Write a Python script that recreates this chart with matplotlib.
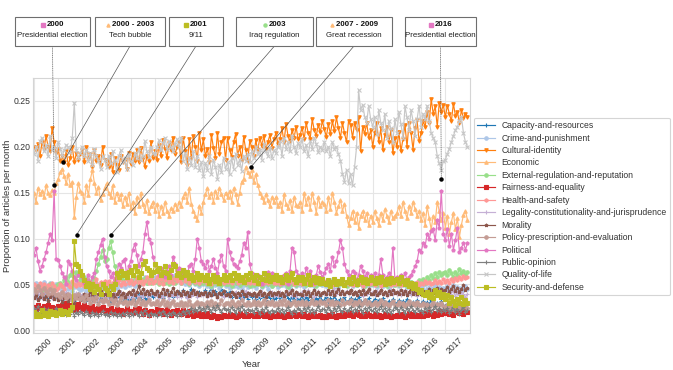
import numpy as np
import matplotlib
matplotlib.use('Agg')
import matplotlib.pyplot as plt
from matplotlib.patches import Rectangle

plt.rcParams['font.family'] = ['Liberation Sans', 'DejaVu Sans']
plt.rcParams['font.size'] = 6.2

#%% Data (monthly share of articles, per mille), Jan 2000 - Dec 2017
start_year = 2000
n_months = 216

capacity = [
    36,40,34,38,42,35,39,33,37,41,36,38, 35,39,33,37,40,34,38,36,32,36,39,35,
    34,38,32,36,39,33,37,35,31,35,38,34, 33,37,31,35,38,32,36,34,30,34,37,33,
    34,38,32,36,40,34,38,35,33,37,40,36, 38,42,36,40,35,39,43,37,41,36,40,38,
    42,38,44,40,36,41,45,39,43,38,42,40, 40,44,38,42,46,40,43,38,41,45,39,42,
    38,42,36,40,37,41,35,39,36,40,34,38, 36,39,34,38,35,40,36,33,37,35,39,34,
    35,38,33,37,34,39,35,32,36,34,38,33, 34,37,32,36,33,38,34,31,35,33,37,32,
    33,36,31,35,32,37,33,30,34,32,36,31, 32,35,30,34,31,36,32,29,33,31,35,30,
    31,34,29,33,30,35,31,28,32,30,34,29, 30,33,28,32,29,34,30,27,31,29,33,28,
    29,32,27,31,28,33,29,26,30,28,32,27, 26,29,24,28,25,30,26,23,27,25,29,24]

crime = [
    48,52,45,50,47,53,46,49,51,44,48,50, 46,50,44,48,52,45,49,43,47,50,46,44,
    45,48,43,47,50,44,48,52,46,49,45,50, 47,51,45,49,52,46,50,48,53,47,51,49,
    50,54,48,52,56,50,55,58,52,57,53,55, 58,53,57,61,55,59,54,58,52,56,60,54,
    55,52,57,50,54,49,53,56,50,54,48,52, 50,53,48,52,47,51,49,53,46,50,52,48,
    49,46,51,48,52,47,50,45,49,52,47,50, 48,51,46,50,53,47,51,49,45,50,48,52,
    50,47,52,49,54,48,51,46,50,53,48,51, 49,52,47,51,55,49,53,48,52,50,54,49,
    52,48,53,50,55,49,52,47,51,54,49,52, 50,53,48,52,49,54,50,47,51,53,48,51,
    49,52,47,51,54,48,52,50,46,51,49,53, 51,48,53,49,52,47,50,53,49,51,47,50,
    48,45,50,44,47,42,46,49,43,47,44,46, 45,48,43,46,49,44,47,42,46,44,48,45]

cultural = [
    200,196,203,190,205,198,212,200,195,221,205,193, 198,185,190,183,195,180,188,200,183,193,186,192,
    196,183,200,188,192,178,197,185,190,180,200,186, 184,178,192,172,188,180,175,190,183,186,176,193,
    181,192,185,196,183,199,188,178,190,185,205,188, 195,186,202,190,207,198,188,204,197,210,192,200,
    205,183,210,195,180,208,188,212,200,185,215,196, 208,190,198,183,213,199,188,215,192,205,210,186,
    210,197,189,205,214,190,200,186,211,197,185,206, 200,190,207,196,210,201,212,198,205,213,199,208,
    215,203,209,220,205,225,212,206,218,210,222,208, 213,221,208,226,215,209,230,218,212,224,216,228,
    219,211,225,214,228,217,232,220,210,226,215,205, 228,224,210,226,218,232,195,222,214,226,210,218,
    200,215,226,205,220,196,213,222,205,218,193,210, 200,216,195,209,224,200,226,215,197,220,229,206,
    215,228,222,238,226,252,236,244,222,248,238,246, 232,245,236,228,247,234,238,226,240,231,236,233]

economic = [
    150,140,155,148,152,145,158,150,147,153,150,160, 165,172,176,168,160,170,158,162,123,145,160,152,
    150,140,158,147,165,175,160,150,156,142,148,155, 160,150,145,158,140,150,143,148,135,145,138,150,
    133,140,128,145,135,150,138,130,142,128,135,140, 130,138,125,135,128,140,130,125,133,130,138,132,
    140,135,145,150,140,155,138,130,125,120,135,128, 140,148,155,145,150,140,152,145,155,148,142,150,
    145,152,140,155,148,138,150,162,165,178,172,168, 175,162,170,158,150,145,140,148,142,135,145,140,
    145,135,140,130,148,138,133,142,130,145,137,135, 140,130,150,138,145,132,150,140,128,145,135,140,
    138,130,145,132,150,140,128,135,142,130,138,125, 115,122,130,118,128,112,125,130,120,128,115,125,
    118,130,122,115,128,120,132,125,118,130,122,125, 128,135,125,140,130,122,135,128,140,132,125,130,
    120,128,115,135,122,110,125,118,140,130,120,128, 112,125,105,118,128,110,122,102,115,126,130,120]

external = [
    45,42,48,44,46,43,47,45,50,46,44,48, 50,52,48,55,58,53,60,62,58,63,60,55,
    56,58,52,55,50,54,57,65,72,80,88,75, 78,90,97,85,70,63,60,58,55,60,57,54,
    55,52,58,54,50,56,53,57,52,55,51,54, 53,56,50,54,58,52,55,50,53,57,52,55,
    56,52,55,58,53,50,54,56,52,55,50,53, 52,55,50,54,48,52,55,50,53,49,52,50,
    50,53,48,55,51,54,49,52,55,50,53,48, 52,49,54,50,53,48,51,55,50,52,48,51,
    50,53,49,52,55,50,47,52,50,54,49,51, 52,50,54,49,52,55,50,53,48,52,50,54,
    51,53,49,52,50,55,51,49,53,50,52,48, 52,50,54,51,49,53,50,52,48,51,54,50,
    50,53,49,52,50,54,51,48,52,50,53,49, 51,49,53,50,52,48,51,53,50,49,52,55,
    54,56,52,58,55,60,57,62,58,64,60,62, 63,60,66,62,58,64,60,67,62,65,60,64]

fairness = [
    25,22,27,24,20,26,23,28,22,25,21,24, 26,23,28,25,30,24,27,22,26,23,29,25,
    23,27,22,25,21,26,23,20,24,22,25,21, 22,20,24,21,19,23,20,22,18,21,24,20,
    21,19,23,20,24,21,18,22,20,17,21,19, 20,23,19,22,18,21,24,20,17,21,19,22,
    20,18,22,19,17,21,18,16,20,17,19,16, 18,15,19,16,14,17,15,13,16,14,17,15,
    16,18,15,17,14,16,19,17,15,18,16,17, 17,15,18,16,19,17,15,18,16,14,17,15,
    16,18,15,17,14,16,18,15,17,19,16,18, 17,15,18,16,14,17,15,18,16,15,17,14,
    16,14,17,15,18,16,14,17,15,19,16,18, 17,19,16,18,20,17,15,18,16,19,17,15,
    16,18,15,17,14,16,18,15,17,14,16,15, 17,15,18,16,14,17,19,16,18,15,17,16,
    18,16,19,17,20,18,16,19,17,21,18,20, 19,22,18,21,17,20,23,19,22,18,21,20]

health = [
    50,48,46,52,47,50,45,49,46,51,48,44, 46,50,48,45,52,49,47,54,50,48,52,49,
    52,48,55,50,53,47,51,56,49,53,50,54, 50,54,48,52,57,51,55,49,53,50,56,52,
    55,50,53,57,52,55,50,54,58,52,56,51, 54,58,52,56,50,55,59,53,56,52,57,54,
    56,52,58,54,57,51,55,59,53,56,52,55, 54,57,52,56,50,55,53,57,52,55,51,54,
    53,56,51,55,58,52,56,53,57,51,55,52, 55,52,57,53,50,56,52,55,51,54,57,52,
    52,55,50,54,52,57,51,53,56,50,54,51, 53,50,55,52,56,51,54,50,53,57,52,55,
    51,54,50,53,49,55,52,50,54,51,49,53, 50,53,49,52,55,50,53,48,52,54,50,52,
    52,49,53,51,48,52,55,50,53,49,52,50, 50,53,49,52,50,54,51,48,52,50,53,49,
    52,50,54,51,53,50,52,55,51,54,52,56, 53,55,52,56,54,57,55,58,56,59,57,58]

legality = [
    40,36,42,38,35,41,37,43,39,35,40,38, 37,41,35,39,42,36,40,34,38,41,36,39,
    38,34,40,36,39,35,41,37,33,38,36,40, 36,40,34,38,41,35,39,42,36,40,37,35,
    39,35,41,37,34,40,36,42,38,35,39,41, 37,41,35,39,36,42,38,34,40,37,41,36,
    40,36,42,38,35,41,37,39,43,36,40,38, 38,42,36,40,37,43,39,35,41,38,36,40,
    39,36,41,38,42,37,40,35,39,43,37,41, 38,41,36,40,37,42,39,35,40,38,42,37,
    40,37,42,38,35,41,39,43,37,40,36,41, 38,42,37,40,44,39,41,36,40,43,38,41,
    41,38,43,39,42,46,40,44,39,42,38,43, 40,44,39,42,38,43,40,37,42,39,44,40,
    42,38,43,40,44,39,42,37,41,44,39,42, 39,43,38,41,44,40,42,38,43,40,37,41,
    40,37,42,38,41,36,40,43,38,41,37,40, 38,41,36,40,43,37,41,38,42,39,36,40]

morality = [
    35,38,33,36,40,34,37,32,36,39,34,37, 33,36,31,35,38,32,36,34,30,35,37,33,
    36,40,34,38,42,37,41,35,39,43,38,40, 38,42,36,40,35,39,43,37,41,36,39,42,
    40,44,38,42,48,41,45,39,43,40,44,41, 39,43,37,41,45,40,44,38,42,46,40,43,
    41,38,43,39,42,37,41,44,39,42,38,41, 39,42,37,41,38,43,40,36,41,39,43,38,
    40,37,42,39,36,41,38,43,40,37,41,39, 38,41,37,40,43,38,41,36,40,42,38,41,
    39,42,38,41,37,43,39,41,44,38,42,40, 40,38,43,39,42,37,41,44,39,42,38,41,
    42,39,44,40,43,38,42,45,40,43,39,42, 41,44,39,42,38,43,40,44,39,42,45,40,
    40,43,38,41,44,39,42,38,43,40,44,41, 42,39,44,40,43,38,42,45,40,43,39,42,
    40,43,38,42,45,40,44,41,46,42,45,43, 44,47,42,45,48,43,46,42,45,49,44,46]

policy = [
    45,42,48,44,40,46,43,39,45,41,44,38, 40,36,42,38,35,40,37,33,38,35,39,34,
    36,32,38,34,30,35,32,36,29,33,31,34, 32,29,34,30,33,28,31,35,30,32,28,31,
    30,33,28,31,34,29,32,27,31,33,29,30, 29,32,27,30,33,28,31,26,30,32,27,29,
    28,31,26,30,27,32,28,25,29,31,27,30, 29,26,31,28,32,27,30,26,29,33,28,30,
    30,27,32,29,26,31,28,33,29,27,31,28, 29,32,28,31,27,30,33,28,31,29,32,27,
    30,28,32,29,33,28,31,27,30,32,28,31, 29,32,28,31,27,30,33,29,31,28,32,30,
    31,28,33,29,32,27,31,30,28,33,29,31, 30,33,28,31,29,32,28,30,33,29,31,28,
    29,31,27,30,33,28,31,29,26,30,32,28, 28,31,27,30,26,29,32,27,30,28,31,27,
    27,30,26,29,25,28,31,26,29,27,30,26, 25,28,24,27,23,26,29,24,27,25,28,24]

political = [
    82,90,75,65,70,78,85,95,105,98,152,78, 77,70,62,58,50,75,72,65,58,55,60,62,
    58,52,55,60,50,58,62,78,85,93,100,80, 70,65,58,62,55,60,72,68,75,78,60,70,
    75,88,94,82,70,78,85,105,118,100,95,80, 72,65,60,68,62,58,65,70,60,80,72,65,
    68,62,58,65,60,70,72,65,78,100,90,75, 72,68,75,65,70,78,68,62,75,82,70,65,
    100,85,78,72,70,68,75,82,95,90,107,72, 62,58,55,60,58,50,55,60,63,58,62,57,
    60,55,58,52,60,62,50,65,90,85,65,60, 58,62,55,68,60,65,58,52,60,70,63,58,
    62,68,72,65,80,70,75,85,98,90,72,65, 60,58,65,62,55,60,70,65,58,62,55,60,
    58,62,55,60,78,60,55,58,62,58,90,56, 58,55,60,56,62,55,58,60,65,70,75,88,
    85,95,92,105,100,108,110,98,120,112,152,105, 98,110,92,105,88,98,112,85,90,95,88,95]

public_opinion = [
    24,21,26,22,19,24,20,23,18,22,20,24, 21,18,23,19,17,21,18,22,16,20,18,21,
    19,17,21,18,15,20,17,19,16,18,21,17, 18,15,20,17,19,16,18,15,19,17,20,16,
    19,17,21,18,16,20,17,22,18,16,19,17, 18,16,20,17,21,18,16,19,17,20,18,16,
    19,17,21,18,22,19,24,20,23,21,25,22, 24,21,26,23,20,25,22,27,23,20,24,22,
    23,20,25,22,19,24,21,26,22,19,23,21, 22,19,24,21,18,23,20,25,21,19,22,20,
    21,24,20,23,19,22,25,21,18,22,20,24, 22,19,24,21,25,20,23,19,22,26,21,23,
    23,20,25,22,19,24,21,26,22,20,24,21, 22,25,20,23,21,26,22,19,24,21,25,22,
    21,24,20,23,26,21,24,20,23,19,22,25, 23,20,25,22,19,24,21,26,22,20,24,21,
    22,19,24,21,25,20,23,26,21,24,20,23, 21,24,19,22,25,20,23,18,22,25,20,22]

quality = [
    192,200,185,206,210,195,202,190,212,196,200,188, 205,198,190,196,202,200,194,210,248,196,188,193,
    200,190,197,185,193,180,198,190,184,176,190,186, 178,190,182,195,186,172,190,196,183,188,176,192,
    185,180,193,188,198,186,190,206,195,189,200,193, 192,200,207,196,204,210,198,206,200,195,203,208,
    200,210,185,193,176,188,180,195,178,190,175,183, 168,182,175,190,170,186,178,165,180,173,188,176,
    183,170,188,176,192,180,186,174,190,185,192,183, 195,188,200,192,197,186,203,195,190,199,188,196,
    193,200,206,190,210,198,205,195,212,200,193,204, 200,208,195,202,190,206,198,210,203,194,200,196,
    205,195,200,190,205,198,200,192,185,170,162,175, 160,170,158,178,200,262,240,246,233,226,245,230,
    222,232,214,240,226,218,236,210,228,220,205,230, 215,238,225,210,244,232,218,240,228,212,230,245,
    222,236,230,245,228,215,210,205,190,182,175,184, 186,192,198,205,212,218,222,228,232,215,205,200]

security = [
    20,16,18,15,22,17,19,16,21,18,20,17, 19,22,18,21,20,18,22,25,97,72,70,65,
    60,55,48,52,45,50,42,48,45,40,50,46, 44,40,48,45,50,62,58,65,60,62,58,64,
    66,60,70,65,58,62,72,75,68,66,60,64, 72,65,68,60,64,70,62,58,66,72,70,60,
    62,58,66,60,63,57,60,55,58,62,56,60, 58,55,60,52,56,60,54,58,52,56,60,55,
    58,60,55,62,57,60,55,58,53,60,56,62, 58,55,60,52,58,56,62,55,60,54,58,56,
    60,55,58,53,56,60,55,58,62,56,53,58, 55,58,52,56,60,50,55,58,53,57,52,56,
    52,50,55,48,53,56,50,54,51,56,49,53, 56,52,58,54,50,55,58,53,56,51,55,58,
    55,52,57,53,58,54,50,56,52,57,53,55, 56,52,58,54,50,55,48,52,46,50,45,42,
    44,40,38,42,36,40,35,44,38,42,36,40, 34,38,30,36,32,28,34,30,36,29,33,30]

names = ['Capacity-and-resources', 'Crime-and-punishment', 'Cultural-identity',
         'Economic', 'External-regulation-and-reputation', 'Fairness-and-equality',
         'Health-and-safety', 'Legality-constitutionality-and-jurisprudence',
         'Morality', 'Policy-prescription-and-evaluation', 'Political',
         'Public-opinion', 'Quality-of-life', 'Security-and-defense']
series = [capacity, crime, cultural, economic, external, fairness, health,
          legality, morality, policy, political, public_opinion, quality, security]
colors = ['#1f77b4', '#aec7e8', '#ff7f0e', '#ffbb78', '#98df8a', '#d62728',
          '#ff9896', '#c5b0d5', '#8c564b', '#c49c94', '#e377c2', '#7f7f7f',
          '#c7c7c7', '#bcbd22']
markers = ['+', 'o', 'v', '^', 'o', 's', 'h', '+', '*', 'o', 'p', '+', 'x', 's']

# events: (year label, description, marker colour, marker, x (year), y, line style)
events = [
    ('2000', 'Presidential election', '#e377c2', 's', 2000 + 10/12, 0.158, ':'),
    ('2000 - 2003', 'Tech bubble', '#ffbb78', '^', 2001.2, 0.183, '-'),
    ('2001', '9/11', '#bcbd22', 's', 2001.76, 0.104, '-'),
    ('2003', 'Iraq regulation', '#98df8a', 'o', 2003.18, 0.104, '-'),
    ('2007 - 2009', 'Great recession', '#ffbb78', '^', 2008.97, 0.178, '-'),
    ('2016', 'Presidential election', '#e377c2', 's', 2016 + 10/12, 0.165, ':'),
]
# box extents in image pixels (left, right)
box_x = [(15, 90), (95, 165), (169, 223), (236, 313), (316, 392), (405, 476)]

years = start_year + np.arange(n_months) / 12.0

#%% Plot
W, H = 673, 370
fig = plt.figure(figsize=(W / 100, H / 100), dpi=100)
ax = fig.add_axes([33 / W, 37 / H, 437 / W, 255 / H])

for vals, name, c, m in zip(series, names, colors, markers):
    ax.plot(years, np.array(vals) / 1000.0, color=c, marker=m, ms=2.5,
            lw=0.85, mew=0.8, label=name)

ax.set_xlim(1999.96, 2018.02)
ax.set_ylim(-0.003, 0.275)
ax.set_yticks([0.0, 0.05, 0.10, 0.15, 0.20, 0.25])
ax.set_yticklabels(['0.00', '0.05', '0.10', '0.15', '0.20', '0.25'])
ax.set_xticks(np.arange(2000, 2018))
ax.set_xticklabels([])
ax.set_xticks(np.arange(2000, 2018) + 0.4, minor=True)
ax.set_xticklabels([str(y) for y in range(2000, 2018)], minor=True,
                   rotation=45, ha='center')
ax.tick_params(which='both', length=0, pad=2, labelcolor='#333333')
ax.grid(True, color='#e5e5e5', lw=0.8)
ax.set_axisbelow(True)
for s in ax.spines.values():
    s.set_color('#d5d5d5')
    s.set_linewidth(0.8)
ax.set_xlabel('Year', fontsize=6.8, color='#333333', labelpad=3)
ax.set_ylabel('Proportion of articles per month', fontsize=6.8, color='#333333',
              labelpad=1)

leg = ax.legend(loc='center left', bbox_to_anchor=(1.009, 0.496), borderaxespad=0,
                fontsize=6.2, labelspacing=0.4, handlelength=2.0,
                frameon=True, edgecolor='#d5d5d5', framealpha=1)
leg.get_frame().set_linewidth(0.8)
for t in leg.get_texts():
    t.set_color('#333333')

# event annotations
fig.canvas.draw()
renderer = fig.canvas.get_renderer()
box_top, box_bot = 17, 46
for (yr, desc, mc, mk, ex, ey, ls), (x0, x1) in zip(events, box_x):
    cx = (x0 + x1) / 2.0
    fig.patches.append(Rectangle((x0, H - box_bot), x1 - x0, box_bot - box_top,
                                 transform=None, fc='white', ec='#6e6e6e', lw=0.8,
                                 zorder=5))
    ax.annotate('', xy=(ex, ey), xycoords='data', xytext=(cx, H - box_bot),
                textcoords='figure pixels',
                arrowprops=dict(arrowstyle='-', color='#555555', lw=0.5, ls=ls,
                                shrinkA=0, shrinkB=0),
                annotation_clip=False)
    ax.plot(ex, ey, 'o', color='black', ms=2.2, zorder=10, clip_on=False)
    t2 = fig.text(cx / W, (H - 35.5) / H, desc, ha='center', va='center',
                  fontsize=5.7, color='#222222', zorder=6)
    t1 = fig.text((cx + 3) / W, (H - 25) / H, yr, ha='center', va='center',
                  fontsize=5.7, fontweight='bold', color='#111111', zorder=6)
    bb = t1.get_window_extent(renderer)
    fig.lines.append(plt.Line2D([bb.x0 - 4], [H - 25], transform=None, color=mc,
                                marker=mk, ms=2.2, lw=0, zorder=7))

fig.savefig('out.png', dpi=100)
